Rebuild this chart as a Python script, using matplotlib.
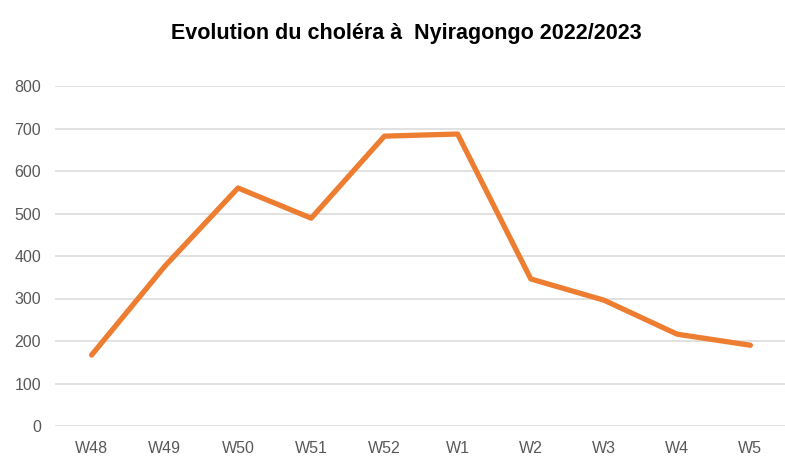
import matplotlib
matplotlib.use("Agg")
import matplotlib.pyplot as plt
from matplotlib import font_manager

semaines = ["W48", "W49", "W50", "W51", "W52", "W1", "W2", "W3", "W4", "W5"]
cas = [167, 376, 560, 489, 682, 687, 346, 296, 216, 190]
graduations = [0, 100, 200, 300, 400, 500, 600, 700, 800]

noms = {f.name for f in font_manager.fontManager.ttflist}
police_axes = "Liberation Sans Narrow" if "Liberation Sans Narrow" in noms else "Liberation Sans"

fig = plt.figure(figsize=(7.85, 4.71), dpi=100)
ax = fig.add_axes([55 / 785, 45 / 471, 732 / 785, 340 / 471])

x = range(len(semaines))
ax.plot(x, cas, color="#ED7D31", linewidth=3.8, solid_capstyle="round",
        solid_joinstyle="round", clip_on=False, zorder=3)

ax.set_xlim(-0.5, len(semaines) - 0.5)
ax.set_ylim(0, 800)
ax.set_yticks(graduations)
ax.set_xticks(list(x))
ax.set_xticklabels(semaines)

for s in ax.spines.values():
    s.set_visible(False)
ax.grid(axis="y", color="#D9D9D9", linewidth=1.1, zorder=0)
ax.tick_params(length=0, colors="#595959", labelsize=11.5)
ax.tick_params(axis="y", pad=10)
ax.tick_params(axis="x", pad=11)
for lab in ax.get_xticklabels() + ax.get_yticklabels():
    lab.set_fontfamily(police_axes)

fig.text(0.518, 0.928, "Evolution du choléra à  Nyiragongo 2022/2023",
         ha="center", va="center", fontsize=15.5, fontweight="bold",
         family="Liberation Sans", color="black")

fig.savefig("out.png", dpi=100)
